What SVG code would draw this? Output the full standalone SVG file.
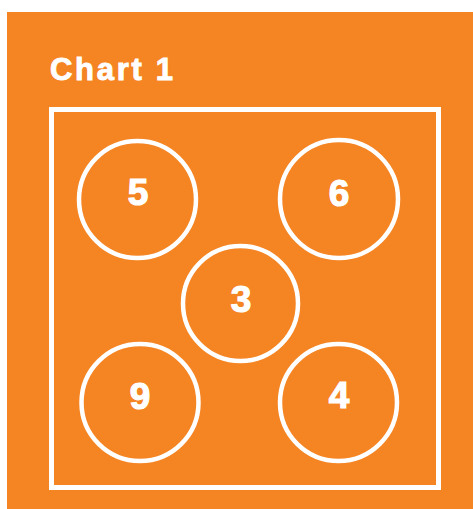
<svg xmlns="http://www.w3.org/2000/svg" width="473" height="509" viewBox="0 0 473 509">
<style>
.n circle{fill:none;stroke:#fff;stroke-width:4.5}
.n text{fill:#fff;stroke:#fff;stroke-width:1.2;font-family:"Liberation Sans",Arial,sans-serif;font-weight:bold;font-size:37px;text-anchor:middle}
.title{fill:#fff;stroke:#fff;stroke-width:0.9;font-family:"Liberation Sans",Arial,sans-serif;font-weight:bold;font-size:31px}
</style>
<rect x="0" y="0" width="473" height="509" fill="#fff"/>
<rect x="7" y="12" width="466" height="497" fill="#F58423"/>
<text class="title" x="50" y="80" letter-spacing="2.7">Chart 1</text>
<rect x="51.5" y="109.5" width="387" height="378" fill="none" stroke="#fff" stroke-width="5"/>
<g id="connectors"></g>
<g id="n5" class="n"><circle cx="137.5" cy="199.5" r="58.5"/><text x="138" y="205">5</text></g>
<g id="n6" class="n"><circle cx="339" cy="199" r="59"/><text x="339" y="206">6</text></g>
<g id="n3" class="n"><circle cx="240.5" cy="303.5" r="57.5"/><text x="241" y="312">3</text></g>
<g id="n9" class="n"><circle cx="140" cy="402.5" r="58.5"/><text x="140" y="409">9</text></g>
<g id="n4" class="n"><circle cx="338.5" cy="402.5" r="58.5"/><text x="339" y="408">4</text></g>
</svg>
